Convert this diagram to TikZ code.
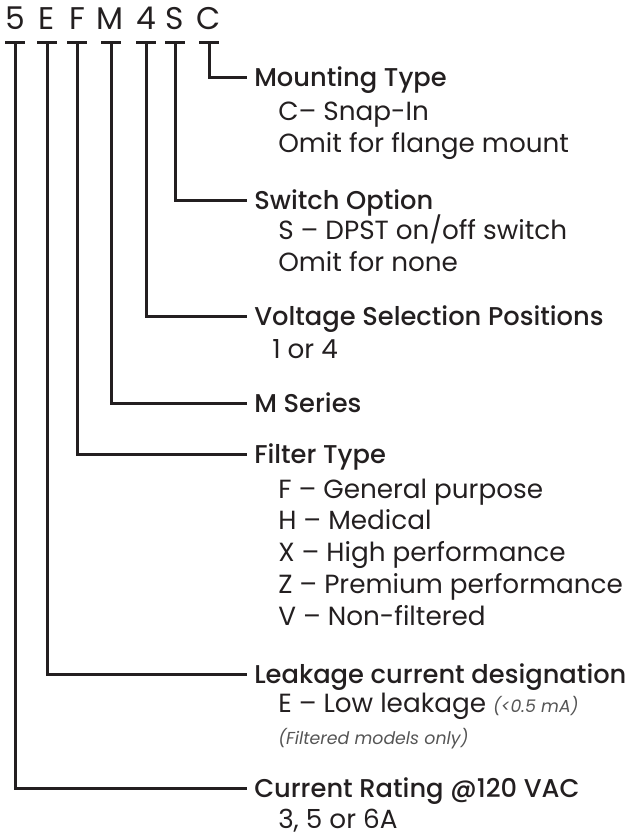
\documentclass[tikz,border=0pt]{standalone}
\usepackage{fontspec}
\setmainfont{Poppins}
\newfontfamily\headfont{Poppins Medium}
\usepackage{xcolor}
\usepackage{tikz}
\definecolor{ink}{HTML}{231F20}
\definecolor{note}{HTML}{555555}
\newcommand{\remark}[1]{{\color{note}\fontsize{13pt}{15pt}\selectfont\itshape #1}}

\begin{document}
\begin{tikzpicture}[x=0.75pt, y=-0.75pt,
    code/.style={anchor=base, inner sep=0pt, text=ink, font=\fontsize{23.5pt}{28pt}\selectfont},
    lead/.style={ink, line width=2.25pt},
    head/.style={anchor=west, inner xsep=5.25pt, inner ysep=0pt, text height=14pt, text depth=0pt,
        text=ink, font=\headfont\fontsize{19.3pt}{24pt}\selectfont},
    desc/.style={anchor=base west, inner sep=0pt, align=left, text=ink, font=\fontsize{19.7pt}{23.8pt}\selectfont}]
        \useasboundingbox (0,0) rectangle (632,836);

        % Part number
        \node[code] (c5) at (15,29) {5};
        \node[code] (cE) at (47,29) {E};
        \node[code] (cF) at (77,29) {F};
        \node[code] (cM) at (110,29) {M};
        \node[code] (c4) at (146,29) {4};
        \node[code] (cS) at (175,29) {S};
        \node[code] (cC) at (209,29) {C};

        % Tee tops under each letter
        \coordinate (t5) at (15,42);
        \coordinate (tE) at (47,42);
        \coordinate (tF) at (77,42);
        \coordinate (tM) at (111,42);
        \coordinate (t4) at (146,42);
        \coordinate (tS) at (175,42);
        \coordinate (tC) at (209,42);

        % Mounting type (desc nodes sit on their last line)
        \node[head] (hC) at (247,77) {Mounting Type};
        \node[desc] (dC) at (278,152) {C– Snap-In\\Omit for flange mount};

        % Switch option
        \node[head] (hS) at (247,200) {Switch Option};
        \node[desc] (dS) at (278,271) {S – DPST on/off switch\\Omit for none};

        % Voltage selection
        \node[head] (h4) at (247,316) {Voltage Selection Positions};
        \node[desc] (d4) at (272,358) {1 or 4};

        % Series
        \node[head] (hM) at (247,403) {M Series};

        % Filter type
        \node[head] (hF) at (247,454) {Filter Type};
        \node[desc] (dF) at (278,625) {F – General purpose\\H – Medical\\X – High performance\\Z – Premium performance\\V – Non-filtered};

        % Leakage current
        \node[head] (hE) at (247,674) {Leakage current designation};
        \node[desc] (dE) at (278,744) {E – Low leakage \remark{(<0.5 mA)}\\\remark{(Filtered models only)}};

        % Current rating
        \node[head] (h5) at (247,788) {Current Rating @120 VAC};
        \node[desc] (d5) at (278,828) {3, 5 or 6A};

        % Tee bars
        \foreach \t in {t5,tE,tF,tM,t4,tS,tC}
            \draw[lead] ([xshift=-7.5pt]\t) -- ([xshift=7.5pt]\t);

        % Leads
        \draw[lead] (tC) |- (hC.west);
        \draw[lead] (tS) |- (hS.west);
        \draw[lead] (t4) |- (h4.west);
        \draw[lead] (tM) |- (hM.west);
        \draw[lead] (tF) |- (hF.west);
        \draw[lead] (tE) |- (hE.west);
        \draw[lead] (t5) |- (h5.west);
    \end{tikzpicture}
\end{document}
